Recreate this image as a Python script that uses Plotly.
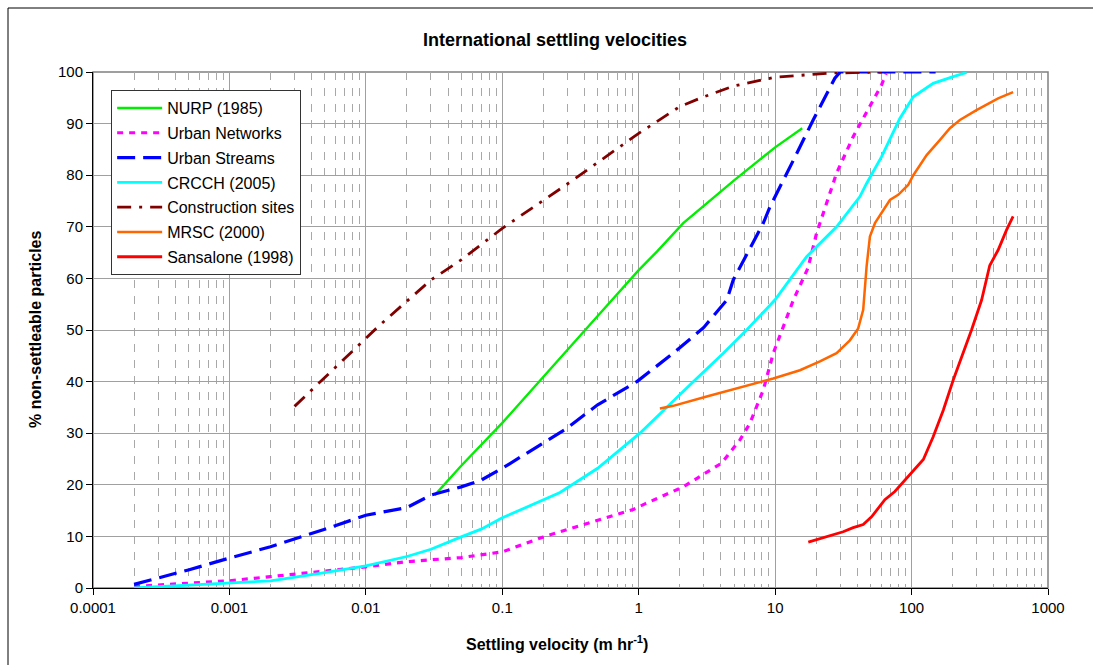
import plotly.graph_objects as go

# ---- axis ticks -------------------------------------------------------------
x_ticks = [0.0001, 0.001, 0.01, 0.1, 1, 10, 100, 1000]
x_tick_labels = ["0.0001", "0.001", "0.01", "0.1", "1", "10", "100", "1000"]
y_ticks = [0, 10, 20, 30, 40, 50, 60, 70, 80, 90, 100]

# ---- series: settling velocity (m/hr) vs % non-settleable -----------------
nurp_v = [0.032, 0.05, 0.1, 0.2, 0.5, 1, 1.36, 2.12, 5, 10, 15.8]
nurp_p = [18, 23.7, 32, 41, 52.7, 61.6, 65.2, 70.7, 79, 85.4, 89.1]

networks_v = [0.0002, 0.0005, 0.001, 0.002, 0.005, 0.01, 0.02, 0.05, 0.1, 0.2,
              0.305, 0.91, 1.11, 2.12, 4.05, 5.52, 6.53, 8.19, 9.69, 11.2, 13.6,
              17.4, 20.1, 28.2, 37.4, 60.3, 65]
networks_p = [0.3, 0.9, 1.4, 2.2, 3.2, 4.1, 5.1, 5.9, 7, 9.9,
              11.4, 15.2, 16.3, 19.6, 24.2, 28.7, 31.9, 38.4, 45.5, 50, 55.8,
              62, 68.7, 80.4, 87.5, 97.5, 99.7]

streams_v = [0.0002, 0.0005, 0.001, 0.002, 0.005, 0.01, 0.02, 0.03, 0.05, 0.07,
             0.1, 0.2, 0.288, 0.5, 0.97, 1.85, 3, 4.42, 4.93, 8.19, 9.17, 13.6,
             19, 27.4, 30, 150]
streams_p = [0.7, 3.5, 5.8, 8.0, 11.4, 14.1, 15.6, 18.0, 19.6, 20.9,
             23.2, 28, 30.7, 35.5, 40, 45.8, 50.5, 55.8, 59.7, 70.7, 73.9, 82.9,
             90.7, 98.8, 100, 100]

crcch_v = [0.0002, 0.0005, 0.001, 0.002, 0.005, 0.01, 0.02, 0.03, 0.05, 0.07,
           0.1, 0.265, 0.5, 1.02, 2.52, 4.17, 6.18, 9.95, 17, 28.2, 41.7, 46.8,
           60.3, 73.3, 82, 103, 144, 202, 253]
crcch_p = [0, 0.6, 1.0, 1.4, 3.0, 4.3, 6.1, 7.5, 9.9, 11.4,
           13.6, 18.5, 23.2, 30, 40, 45.5, 50, 55.8, 64.2, 70, 75.8, 78.4,
           83.6, 88.4, 91, 95.2, 97.8, 99.1, 99.9]

construction_v = [0.003, 0.005, 0.01, 0.0127, 0.03, 0.05, 0.1, 0.2, 0.3, 1, 2,
                  3, 5, 10, 17, 26, 60]
construction_p = [35.2, 40.8, 48.5, 51, 59.7, 63.6, 69.7, 75.2, 78.3, 88.1, 93.3,
                  95.2, 97.3, 99.0, 99.5, 99.8, 100]

mrsc_v = [1.43, 1.79, 3.15, 5.84, 9.69, 15.2, 21.3, 28.2, 35.3, 40.6, 44.2,
          46.8, 49.5, 53.9, 69.4, 79.8, 94.4, 103, 129, 161, 191, 226, 299,
          431, 555]
mrsc_p = [34.8, 35.3, 37.1, 39, 40.6, 42.2, 43.9, 45.5, 48, 50.3, 53.9,
          62.3, 68.1, 70.7, 75.2, 76.2, 78.1, 80, 83.9, 86.8, 89.1, 90.7, 92.6,
          94.9, 96.1]

sansalone_v = [17.5, 31.5, 37.3, 44.2, 50.9, 63.7, 75.4, 91.9, 106, 122, 144,
               171, 202, 239, 275, 326, 374, 431, 497, 555]
sansalone_p = [8.9, 10.9, 11.7, 12.3, 13.8, 17.1, 18.7, 21.3, 23.2, 24.9, 29.3,
               34.5, 40.3, 45.5, 50, 55.8, 62.5, 65.5, 69.4, 72]

FONT = "Liberation Sans, Arial, sans-serif"

series = [
    ("NURP (1985)", nurp_v, nurp_p, "#00ee00", 2.4, "solid"),
    ("Urban Networks", networks_v, networks_p, "#ff00ff", 3.2, "6px,6px"),
    ("Urban Streams", streams_v, streams_p, "#0000ff", 3.2, "18px,8px"),
    ("CRCCH (2005)", crcch_v, crcch_p, "#00ffff", 2.8, "solid"),
    ("Construction sites", construction_v, construction_p, "#800000", 2.8,
     "14px,8px,3px,8px"),
    ("MRSC (2000)", mrsc_v, mrsc_p, "#ff6600", 2.5, "solid"),
    ("Sansalone (1998)", sansalone_v, sansalone_p, "#ff0000", 2.8, "solid"),
]

fig = go.Figure()
for i, (name, v, p, color, width, dash) in enumerate(series):
    fig.add_trace(go.Scatter(
        x=v, y=p, mode="lines", name=name, legendgroup=f"g{i}",
        line=dict(color=color, width=width, dash=dash),
    ))

minor_x = [m * 10 ** e for e in range(-4, 3) for m in range(2, 10)]

fig.update_xaxes(
    type="log", range=[-4, 3],
    tickmode="array", tickvals=x_ticks, ticktext=x_tick_labels,
    showline=True, linecolor="black", linewidth=1,
    ticks="outside", ticklen=6, tickcolor="black",
    showgrid=True, gridcolor="#a0a0a0", gridwidth=1,
    minor=dict(tickmode="array", tickvals=minor_x, showgrid=True,
               gridcolor="#a8a8a8", griddash="8px,8px", gridwidth=1),
    zeroline=False,
    tickfont=dict(family=FONT, size=15, color="black"),
)
fig.update_yaxes(
    range=[0, 100], tickmode="array", tickvals=y_ticks,
    showline=True, linecolor="black", linewidth=1,
    ticks="outside", ticklen=6, tickcolor="black",
    showgrid=True, gridcolor="#a0a0a0", gridwidth=1,
    zeroline=False,
    tickfont=dict(family=FONT, size=15, color="black"),
)

fig.update_layout(
    width=1093, height=665,
    margin=dict(l=93, r=45, t=72, b=77),
    paper_bgcolor="white", plot_bgcolor="white",
    font=dict(family=FONT, color="black"),
    title=dict(text="<b>International settling velocities</b>",
               x=555 / 1093, xref="container", xanchor="center",
               y=1 - 40 / 665, yref="container", yanchor="middle",
               font=dict(family=FONT, size=18, color="black")),
    legend=dict(x=0.019, y=0.965, xanchor="left", yanchor="top",
                bgcolor="white", bordercolor="#333333", borderwidth=1,
                font=dict(family=FONT, size=16, color="black"),
                itemwidth=45, tracegroupgap=1, traceorder="grouped"),
    showlegend=True,
)

# plot-area frame (grey) and outer chart frame (black)
fig.add_shape(type="rect", xref="paper", yref="paper", x0=0, x1=1, y0=0, y1=1,
              line=dict(color="#808080", width=1.5), layer="below")
fig.add_shape(type="rect", xref="paper", yref="paper",
              x0=(8 - 93) / 955, x1=1.2, y0=-0.3, y1=(588 - 8) / 516,
              line=dict(color="black", width=1))

# axis titles
fig.add_annotation(text="<b>Settling velocity (m hr<sup>-1</sup>)</b>",
                   xref="paper", yref="paper", x=(557 - 93) / 955,
                   y=(588 - 643) / 516, showarrow=False,
                   xanchor="center", yanchor="middle",
                   font=dict(family=FONT, size=16, color="black"))
fig.add_annotation(text="<b>% non-settleable particles</b>",
                   xref="paper", yref="paper", x=(35 - 93) / 955,
                   y=(588 - 330) / 516, showarrow=False, textangle=-90,
                   xanchor="center", yanchor="middle",
                   font=dict(family=FONT, size=16, color="black"))

fig.write_html("out.html")
